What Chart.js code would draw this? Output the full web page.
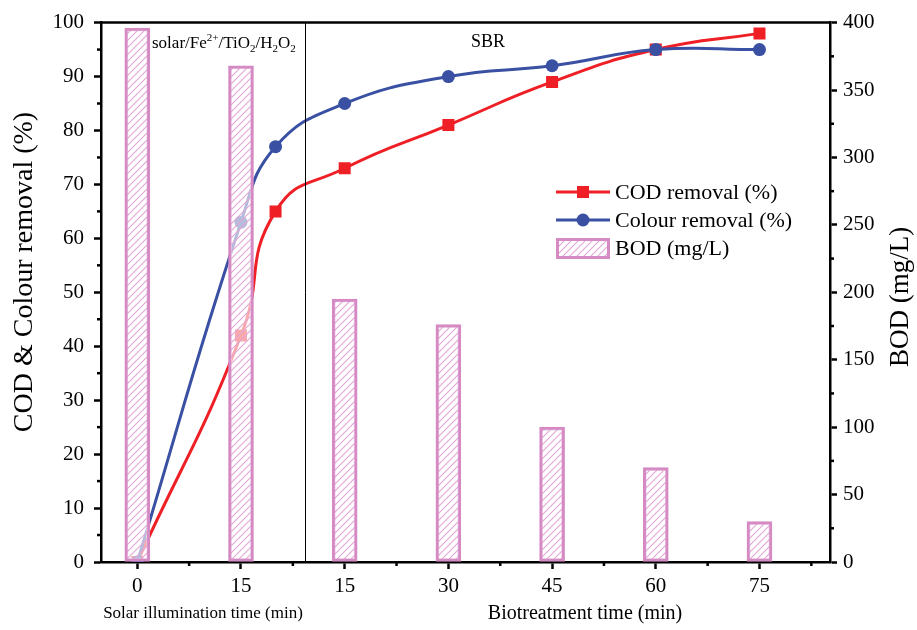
<!DOCTYPE html>
<html>
<head>
<meta charset="utf-8">
<script src="https://cdn.jsdelivr.net/npm/chart.js@4.4.0/dist/chart.umd.min.js"></script>
<style>
html,body{margin:0;padding:0;background:#fff;}
#wrap{width:917px;height:630px;position:relative;}
</style>
</head>
<body>
<div id="wrap"><canvas id="c" width="917" height="630"></canvas></div>
<script>
// ---- data ----
const solarTimes = [0, 15, 20];              // min (solar/Fe2+/TiO2/H2O2 phase)
const bioTimes = [15, 30, 45, 60, 75];       // min (SBR phase)
const xTickLabels = ['0', '15', '15', '30', '45', '60', '75'];
const codRemoval = [0, 42, 65, 73, 81, 89, 95, 98];       // %
const colourRemoval = [0, 63, 77, 85, 90, 92, 95, 95];    // %
const bodSolarTimes = [0, 15];
const bodBioTimes = [15, 30, 45, 60, 75];
const bodValues = [396, 368, 195, 176, 100, 70, 30];      // mg/L
const phaseBoundary = 1.62; // axis position where SBR phase begins (between 20 min solar and 15 min bio)

// position on the shared x axis: solar minutes t -> t/15, bio minutes t -> 1 + t/15
const solarPos = t => t / 15;
const bioPos = t => 1 + t / 15;
const lineX = [...solarTimes.map(solarPos), ...bioTimes.map(bioPos)];
const barX = [...bodSolarTimes.map(solarPos), ...bodBioTimes.map(bioPos)];

const SERIF = '"Liberation Serif", "Times New Roman", serif';
const RED = '#ee1f25';
const BLUE = '#3a51a3';
const PINK = '#d58ac4';
const HATCH = '#e2a5d5';

function hatchPattern() {
  const s = 7;
  const cv = document.createElement('canvas');
  cv.width = s; cv.height = s;
  const g = cv.getContext('2d');
  g.fillStyle = 'rgba(255,255,255,0.62)';
  g.fillRect(0, 0, s, s);
  g.strokeStyle = HATCH;
  g.lineWidth = 1.1;
  g.beginPath();
  g.moveTo(0, s); g.lineTo(s, 0);
  g.moveTo(-1, 1); g.lineTo(1, -1);
  g.moveTo(s - 1, s + 1); g.lineTo(s + 1, s - 1);
  g.stroke();
  return g.createPattern(cv, 'repeat');
}
const pattern = hatchPattern();

const decor = {
  id: 'decor',
  afterDatasetsDraw(chart) {
    const {ctx, chartArea: a, scales} = chart;
    ctx.save();
    // phase divider
    const xd = scales.x.getPixelForValue(phaseBoundary);
    ctx.strokeStyle = '#000'; ctx.lineWidth = 1;
    ctx.beginPath(); ctx.moveTo(Math.round(xd) + 0.5, a.top); ctx.lineTo(Math.round(xd) + 0.5, a.bottom); ctx.stroke();
    ctx.restore();
  },
  afterDraw(chart) {
    const {ctx, chartArea: a, scales} = chart;
    ctx.save();
    // top border
    ctx.strokeStyle = '#000'; ctx.lineWidth = 2.5;
    ctx.beginPath(); ctx.moveTo(a.left - 1, a.top); ctx.lineTo(a.right + 1, a.top); ctx.stroke();
    // minor ticks
    ctx.lineWidth = 2.5;
    for (let i = 0; i < 7; i++) {
      const px = scales.x.getPixelForValue(i + 0.5);
      ctx.beginPath(); ctx.moveTo(px, a.bottom); ctx.lineTo(px, a.bottom + 4); ctx.stroke();
    }
    for (let v = 5; v < 100; v += 10) {
      const py = scales.y.getPixelForValue(v);
      ctx.beginPath(); ctx.moveTo(a.left, py); ctx.lineTo(a.left - 4, py); ctx.stroke();
    }
    for (let v = 25; v < 400; v += 50) {
      const py = scales.y2.getPixelForValue(v);
      ctx.beginPath(); ctx.moveTo(a.right, py); ctx.lineTo(a.right + 4, py); ctx.stroke();
    }
    ctx.fillStyle = '#000';
    // axis titles
    ctx.save();
    ctx.font = '28px ' + SERIF;
    ctx.textAlign = 'center'; ctx.textBaseline = 'middle';
    ctx.translate(25, 272); ctx.rotate(-Math.PI / 2);
    ctx.fillText('COD & Colour removal (%)', 0, 0);
    ctx.restore();
    ctx.save();
    ctx.font = '27px ' + SERIF;
    ctx.textAlign = 'center'; ctx.textBaseline = 'middle';
    ctx.translate(901, 297); ctx.rotate(-Math.PI / 2);
    ctx.fillText('BOD (mg/L)', 0, 0);
    ctx.restore();
    ctx.textAlign = 'center'; ctx.textBaseline = 'alphabetic';
    ctx.font = '17px ' + SERIF;
    ctx.fillText('Solar illumination time (min)', 203, 618);
    ctx.font = '20px ' + SERIF;
    ctx.fillText('Biotreatment time (min)', 585, 619);
    // phase labels
    ctx.textAlign = 'left';
    let x = 152; const base = 48;
    const seg = (t, size, dy) => { ctx.font = size + 'px ' + SERIF; ctx.fillText(t, x, base + dy); x += ctx.measureText(t).width; };
    seg('solar/Fe', 17, 0); seg('2+', 11, -7); seg('/TiO', 17, 0); seg('2', 11, 4);
    seg('/H', 17, 0); seg('2', 11, 4); seg('O', 17, 0); seg('2', 11, 4);
    ctx.font = '18px ' + SERIF; ctx.textAlign = 'center';
    ctx.fillText('SBR', 488, 47);
    // legend
    const lx0 = 556, lx1 = 610, tx = 615;
    const rows = [192, 220, 248];
    ctx.textAlign = 'left'; ctx.textBaseline = 'middle';
    ctx.font = '22px ' + SERIF;
    chart.data.datasets.forEach((ds, k) => {
      const y = rows[k];
      if (ds.type === 'line') {
        ctx.strokeStyle = ds.borderColor; ctx.lineWidth = 3;
        ctx.beginPath(); ctx.moveTo(lx0, y); ctx.lineTo(lx1, y); ctx.stroke();
        ctx.fillStyle = ds.pointBackgroundColor;
        const cx = (lx0 + lx1) / 2;
        ctx.beginPath();
        if (ds.pointStyle === 'rect') ctx.rect(cx - 6, y - 6, 12, 12); else ctx.arc(cx, y, 6.5, 0, Math.PI * 2);
        ctx.fill();
      } else {
        ctx.fillStyle = pattern; ctx.fillRect(lx0, y - 10, lx1 - lx0, 21);
        ctx.strokeStyle = PINK; ctx.lineWidth = 3;
        ctx.strokeRect(lx0 + 1.5, y - 8.5, lx1 - lx0 - 3, 18);
      }
      ctx.fillStyle = '#000';
      ctx.fillText(ds.label, tx, y + 1);
    });
    ctx.restore();
  }
};

const axisCommon = {
  border: {display: true, color: '#000', width: 2.5},
  grid: {display: true, drawOnChartArea: false, drawTicks: true, tickLength: 7, tickWidth: 2.5, tickColor: '#000', offset: false},
};

new Chart(document.getElementById('c'), {
  data: {
    datasets: [
      {
        type: 'line', label: 'COD removal (%)', order: 2, yAxisID: 'y',
        data: lineX.map((x, i) => ({x, y: codRemoval[i]})),
        borderColor: RED, backgroundColor: RED, pointBackgroundColor: RED, pointBorderColor: RED,
        borderWidth: 3, pointStyle: 'rect', pointRadius: 8.5, pointBorderWidth: 0, tension: 0.5
      },
      {
        type: 'line', label: 'Colour removal (%)', order: 1, yAxisID: 'y',
        data: lineX.map((x, i) => ({x, y: colourRemoval[i]})),
        borderColor: BLUE, backgroundColor: BLUE, pointBackgroundColor: BLUE, pointBorderColor: BLUE,
        borderWidth: 3, pointStyle: 'circle', pointRadius: 6.5, pointBorderWidth: 0, tension: 0.45
      },
      {
        type: 'bar', label: 'BOD (mg/L)', order: 0, yAxisID: 'y2',
        data: barX.map((x, i) => ({x, y: bodValues[i]})),
        backgroundColor: pattern, borderColor: PINK, borderWidth: 3, barThickness: 25, borderSkipped: false
      }
    ]
  },
  options: {
    responsive: false, animation: false, devicePixelRatio: 1,
    layout: {padding: {top: 20, left: 0, right: 0, bottom: 0}},
    plugins: {legend: {display: false}, tooltip: {enabled: false}},
    scales: {
      x: {
        type: 'linear', position: 'bottom', min: -0.35, max: 6.68, offset: false,
        ...axisCommon,
        afterBuildTicks: s => { s.ticks = xTickLabels.map((_, i) => ({value: i})); },
        afterFit: s => { s.height = 68; },
        ticks: {
          callback: v => xTickLabels[v] ?? '', autoSkip: false, maxRotation: 0,
          font: {family: SERIF, size: 21}, color: '#000', padding: 5
        }
      },
      y: {
        type: 'linear', position: 'left', min: 0, max: 100,
        ...axisCommon,
        afterFit: s => { s.width = 101; },
        ticks: {stepSize: 10, font: {family: SERIF, size: 21}, color: '#000', padding: 10}
      },
      y2: {
        type: 'linear', position: 'right', min: 0, max: 400,
        ...axisCommon,
        afterFit: s => { s.width = 87; },
        ticks: {stepSize: 50, font: {family: SERIF, size: 21}, color: '#000', padding: 6}
      }
    }
  },
  plugins: [decor]
});
</script>
</body>
</html>
